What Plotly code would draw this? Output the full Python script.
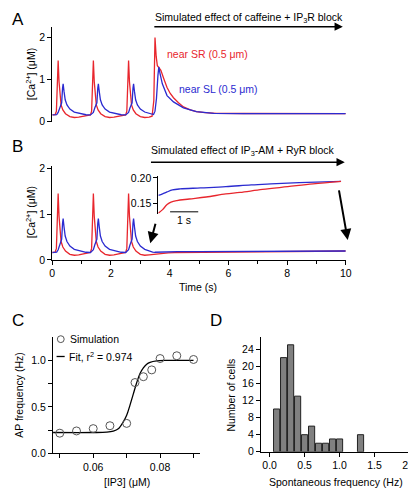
import plotly.graph_objects as go

W, H = 416, 488
def fx(p): return p / W
def fy(p): return 1 - p / H

# ---------------- DATA ----------------
# Panels A/B: shared oscillation (first three cycles)
red_t_osc = [0.00,0.10,0.14,0.17,0.20,0.23,0.26,0.30,0.36,0.45,0.60,0.75,0.90,1.05,1.20,
             1.30,1.34,1.37,1.40,1.43,1.46,1.50,1.56,1.65,1.80,1.95,2.10,2.25,2.40,
             2.50,2.54,2.57,2.60,2.63,2.66,2.70,2.76,2.85,3.00,3.15,3.30]
red_v_osc = [0.16,0.17,0.25,0.90,1.45,0.95,0.60,0.40,0.28,0.19,0.12,0.10,0.11,0.13,0.15,
             0.16,0.25,0.90,1.45,0.95,0.60,0.40,0.28,0.19,0.12,0.10,0.11,0.13,0.15,
             0.16,0.25,0.90,1.45,0.95,0.60,0.40,0.28,0.19,0.12,0.10,0.11]
blue_t_osc = [0.00,0.15,0.20,0.25,0.29,0.32,0.35,0.37,0.40,0.44,0.50,0.60,0.75,0.95,1.15,
              1.30,1.40,1.45,1.49,1.52,1.55,1.57,1.60,1.64,1.70,1.80,1.95,2.15,2.35,
              2.50,2.60,2.65,2.69,2.72,2.75,2.77,2.80,2.84,2.90,3.00,3.15]
blue_v_osc = [0.16,0.17,0.22,0.33,0.40,0.45,0.80,0.90,0.72,0.52,0.40,0.30,0.23,0.19,0.165,
              0.16,0.22,0.33,0.40,0.45,0.80,0.90,0.72,0.52,0.40,0.30,0.23,0.19,0.165,
              0.16,0.22,0.33,0.40,0.45,0.80,0.90,0.72,0.52,0.40,0.30,0.23]

# Panel A tails (caffeine + IP3R block)
red_t_A_tail = [3.40,3.46,3.50,3.54,3.58,3.64,3.70,3.80,3.91,4.02,4.13,4.30,4.47,4.70,4.91,5.20,5.60,6.50,8.00,10.0]
red_v_A_tail = [0.13,0.50,2.00,1.55,1.33,1.28,1.22,1.02,0.81,0.67,0.57,0.45,0.35,0.28,0.24,0.215,0.20,0.195,0.19,0.19]
blue_t_A_tail = [3.35,3.45,3.50,3.55,3.60,3.63,3.67,3.75,3.91,4.13,4.47,4.91,5.50,6.50,10.0]
blue_v_A_tail = [0.18,0.17,0.25,0.55,1.10,1.30,1.15,0.90,0.62,0.47,0.33,0.24,0.20,0.19,0.19]

# Panel B tails (IP3-AM + RyR block)
red_t_B_tail = [3.42,3.50,3.65,3.81,3.95,4.16,4.60,5.20,5.90,6.40,7.20,8.10,9.00,10.0]
red_v_B_tail = [0.12,0.130,0.137,0.147,0.152,0.155,0.158,0.162,0.168,0.171,0.177,0.1825,0.188,0.193]
blue_t_B_tail = [3.30,3.42,3.50,3.65,3.81,4.00,4.27,5.00,5.90,6.80,7.50,8.50,10.0]
blue_v_B_tail = [0.19,0.17,0.165,0.168,0.172,0.176,0.178,0.180,0.1825,0.186,0.188,0.1905,0.193]

# Panel C
ip3 = [0.050,0.055,0.060,0.065,0.070,0.0725,0.075,0.0775,0.080,0.085,0.090]
ap_freq = [0.218,0.242,0.267,0.298,0.323,0.762,0.825,0.898,1.02,1.05,1.01]
fit_x = [0.048,0.060,0.064,0.066,0.0675,0.069,0.070,0.071,0.072,0.073,0.074,0.075,0.076,0.077,0.079,0.082,0.090]
fit_y = [0.225,0.225,0.229,0.240,0.265,0.34,0.41,0.52,0.64,0.76,0.86,0.92,0.96,0.98,0.995,1.0,1.0]

# Panel D
freq_bins = [0.1,0.2,0.3,0.4,0.5,0.6,0.7,0.8,0.9,1.0,1.3]
n_cells = [10,22,25,13,4,6,2,2,3,3,4]

# ---------------- FIGURE ----------------
RED = "#e8262d"
BLUE = "#2b2bd0"
FONT = "Liberation Sans, Arial, sans-serif"
TICKF = dict(family=FONT, size=10.5, color="black")

fig = go.Figure()

lw = 1.3
# Panel A
fig.add_trace(go.Scatter(x=red_t_osc + red_t_A_tail, y=red_v_osc + red_v_A_tail, mode="lines",
                         line=dict(color=RED, width=lw), xaxis="x", yaxis="y"))
fig.add_trace(go.Scatter(x=blue_t_osc + blue_t_A_tail, y=blue_v_osc + blue_v_A_tail, mode="lines",
                         line=dict(color=BLUE, width=lw), xaxis="x", yaxis="y"))
# Panel B
fig.add_trace(go.Scatter(x=red_t_osc + red_t_B_tail, y=red_v_osc + red_v_B_tail, mode="lines",
                         line=dict(color=RED, width=lw), xaxis="x2", yaxis="y2"))
fig.add_trace(go.Scatter(x=blue_t_osc + blue_t_B_tail, y=blue_v_osc + blue_v_B_tail, mode="lines",
                         line=dict(color=BLUE, width=lw), xaxis="x2", yaxis="y2"))
# Inset
ins_rt = [t for t in red_t_B_tail if t >= 3.5]
ins_rv = [v for t, v in zip(red_t_B_tail, red_v_B_tail) if t >= 3.5]
ins_bt = [t for t in blue_t_B_tail if t >= 3.5]
ins_bv = [v for t, v in zip(blue_t_B_tail, blue_v_B_tail) if t >= 3.5]
fig.add_trace(go.Scatter(x=ins_bt, y=ins_bv, mode="lines", line=dict(color=BLUE, width=lw, shape="spline"),
                         xaxis="x3", yaxis="y3"))
fig.add_trace(go.Scatter(x=ins_rt, y=ins_rv, mode="lines", line=dict(color=RED, width=lw, shape="spline"),
                         xaxis="x3", yaxis="y3"))
# Panel C
fig.add_trace(go.Scatter(x=fit_x, y=fit_y, mode="lines", line=dict(color="black", width=1.3, shape="spline"),
                         xaxis="x4", yaxis="y4"))
fig.add_trace(go.Scatter(x=ip3, y=ap_freq, mode="markers",
                         marker=dict(symbol="circle-open", size=8, color="#555555", line=dict(width=1)),
                         xaxis="x4", yaxis="y4"))
# Panel D
fig.add_trace(go.Bar(x=freq_bins, y=n_cells, width=0.088,
                     marker=dict(color="#808080", line=dict(color="#222222", width=1)),
                     xaxis="x5", yaxis="y5"))

common = dict(showgrid=False, zeroline=False, showline=True, linecolor="black", linewidth=1,
              ticks="outside", ticklen=4, tickwidth=1, tickcolor="black", tickfont=TICKF)

layout = dict(
    width=W, height=H, margin=dict(l=0, r=0, t=0, b=0), showlegend=False,
    paper_bgcolor="white", plot_bgcolor="rgba(0,0,0,0)",
    font=dict(family=FONT, size=11, color="black"),
    # Panel A
    xaxis=dict(domain=[fx(42.3), fx(343)], range=[0, 10], visible=False, anchor="y"),
    yaxis=dict(domain=[fy(112), fy(15)], range=[0, 2.256], anchor="x", tickvals=[0, 1, 2], **common),
    # Panel B
    xaxis2=dict(domain=[fx(42.3), fx(343)], range=[0, 10], anchor="y2", tickvals=[0, 2, 4, 6, 8, 10],
                minor=dict(tickvals=[1, 3, 5, 7, 9], ticks="outside", ticklen=3, tickcolor="black"), **common),
    yaxis2=dict(domain=[fy(253), fy(157)], range=[0, 2.056], anchor="x2", tickvals=[0, 1, 2], **common),
    # Inset
    xaxis3=dict(domain=[fx(151), fx(338.3)], range=[3.5, 10], visible=False, anchor="y3"),
    yaxis3=dict(domain=[fy(206), fy(167)], range=[0.1287, 0.2045], anchor="x3",
                tickvals=[0.15, 0.20], ticktext=["0.15", "0.20"], **common),
    # Panel C
    xaxis4=dict(domain=[fx(43), fx(194)], range=[0.04796, 0.09204], anchor="y4",
                tickvals=[0.06, 0.08], ticktext=["0.06", "0.08"],
                minor=dict(tickvals=[0.05, 0.07, 0.09], ticks="outside", ticklen=4, tickcolor="black"), **common),
    yaxis4=dict(domain=[fy(450.7), fy(331.7)], range=[0, 1.2526], anchor="x4",
                tickvals=[0, 0.5, 1.0], ticktext=["0.0", "0.5", "1.0"],
                minor=dict(tickvals=[0.25, 0.75], ticks="outside", ticklen=4, tickcolor="black"), **common),
    # Panel D
    xaxis5=dict(domain=[fx(256), fx(408.3)], range=[-0.1256, 2.0], anchor="y5",
                tickvals=[0, 0.5, 1.0, 1.5, 2.0], ticktext=["0.0", "0.5", "1.0", "1.5", "2.0"], **common),
    yaxis5=dict(domain=[fy(449), fy(331.7)], range=[0, 26.84], anchor="x5",
                tickvals=[0, 4, 8, 12, 16, 20, 24], **common),
)
fig.update_layout(**layout)

ann = []
def txt(x, y, s, size=11, color="black", xanchor="center", angle=0):
    ann.append(dict(x=fx(x), y=fy(y), xref="paper", yref="paper", text=s, showarrow=False,
                    xanchor=xanchor, yanchor="middle", textangle=angle,
                    font=dict(family=FONT, size=size, color=color)))

def arrow(x0, y0, x1, y1, width=1.5):
    ann.append(dict(x=fx(x1), y=fy(y1), xref="paper", yref="paper", ax=x0 - x1, ay=y0 - y1,
                    axref="pixel", ayref="pixel", text="", showarrow=True, arrowhead=2,
                    arrowsize=1.1, arrowwidth=width, arrowcolor="black"))

# Panel letters
txt(7, 8, "A", size=17)
txt(7, 137, "B", size=17)
txt(7, 315, "C", size=17)
txt(210, 315, "D", size=17)

# Panel A
txt(243.5, 6, "Simulated effect of caffeine + IP<sub>3</sub>R block", size=10.5)
arrow(150, 15, 340, 15, 1.5)
txt(158, 43, "near SR (0.5 μm)", size=10.5, color=RED, xanchor="left")
txt(170, 79, "near SL (0.5 μm)", size=10.5, color=BLUE, xanchor="left")
txt(20, 64, "[Ca<sup>2+</sup>] (μM)", size=10.5, angle=-90)

# Panel B
txt(238, 141.7, "Simulated effect of IP<sub>3</sub>-AM + RyR block", size=10.5)
arrow(146.7, 153.3, 342, 153.3, 1.5)
arrow(148.3, 215, 142.7, 236, 2)
arrow(336, 181.7, 345, 232.7, 2)
txt(20, 205, "[Ca<sup>2+</sup>] (μM)", size=10.5, angle=-90)
txt(192, 281, "Time (s)", size=10.5)
# inset scale bar label
ann.append(dict(x=4.417, y=fy(212.5), xref="x3", yref="paper", text="1 s", showarrow=False,
                xanchor="center", yanchor="middle", font=dict(family=FONT, size=10.5)))

# Panel C
txt(8, 391, "AP frequency (Hz)", size=10.5, angle=-90)
txt(118.5, 479.5, "[IP3] (μM)", size=10.5)
txt(58, 334, "Simulation", size=10.5, xanchor="left")
txt(57.5, 351.7, "Fit, r<sup>2</sup> = 0.974", size=10.5, xanchor="left")

# Panel D
txt(225, 391, "Number of cells", size=10.5, angle=-90)
txt(333, 479.5, "Spontaneous frequency (Hz)", size=10.5)

fig.update_layout(annotations=ann)

shapes = [
    dict(type="line", xref="x3", yref="paper", x0=3.917, x1=4.917, y0=fy(204), y1=fy(204),
         line=dict(color="black", width=1)),
    dict(type="line", xref="paper", yref="paper", x0=fx(46.7), x1=fx(55), y0=fy(351.7), y1=fy(351.7),
         line=dict(color="black", width=1.3)),
    dict(type="circle", xref="paper", yref="paper", x0=fx(47.5), x1=fx(54.5), y0=fy(337.5), y1=fy(330.5),
         line=dict(color="#555555", width=1)),
]
fig.update_layout(shapes=shapes)

fig.write_html("out.html")
